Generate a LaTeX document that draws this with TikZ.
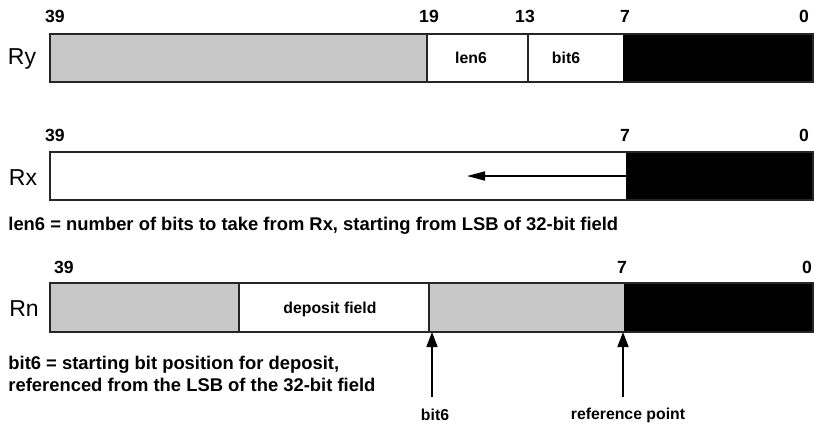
\documentclass[tikz,border=0pt]{standalone}
\usepackage{fontspec}
\setmainfont{Liberation Sans}
\usetikzlibrary{arrows.meta}
\definecolor{fieldgray}{HTML}{C8C8C8}

\begin{document}
\begin{tikzpicture}[x=0.5pt, y=-0.5pt,
    bitnum/.style={font=\bfseries\fontsize{8.8}{10}\selectfont, inner sep=0pt},
    regname/.style={font=\fontsize{11.5}{13}\selectfont, inner sep=0pt},
    fieldtxt/.style={font=\bfseries\fontsize{7.9}{9}\selectfont, inner sep=0pt},
    note/.style={font=\bfseries\fontsize{9.2}{11}\selectfont, align=left, anchor=west, inner sep=0pt},
    seg/.style={draw=black!85, line width=1pt},
    ptr/.style={line width=0.8pt, -{Triangle[length=9pt,width=4.5pt]}},
    upptr/.style={line width=0.8pt, -{Triangle[length=7.5pt,width=5.5pt]}}]
    \useasboundingbox (0,0) rectangle (814,424);

    % Register Ry
    \fill[fieldgray] (50,34) rectangle (427,82);
    \fill[black] (623,34) rectangle (814,82);
    \draw[seg] (50,34) rectangle (813,82);
    \draw[seg] (427,34) -- (427,82);
    \draw[seg] (528,34) -- (528,82);
    \node[regname] (ry) at (22,59) {Ry};
    \node[fieldtxt] (len) at (471,58) {len6};
    \node[fieldtxt] (bit) at (566,58) {bit6};
    \node[bitnum] (ya) at (55,16) {39};
    \node[bitnum] (yb) at (429,16) {19};
    \node[bitnum] (yc) at (525,16) {13};
    \node[bitnum] (yd) at (625,16) {7};
    \node[bitnum] (ye) at (804,16) {0};

    % Register Rx
    \fill[black] (626,152) rectangle (814,200);
    \draw[seg] (50,152) rectangle (813,200);
    \node[regname] (rx) at (23,178) {Rx};
    \node[bitnum] (xa) at (55,135) {39};
    \node[bitnum] (xd) at (625,135) {7};
    \node[bitnum] (xe) at (804,135) {0};
    \coordinate (rxstart) at (626,176);
    \coordinate (rxend) at (467,176);
    \draw[ptr] (rxstart) -- (rxend);
    \node[note] (lennote) at (8,226) {len6 = number of bits to take from Rx, starting from LSB of 32-bit field};

    % Register Rn
    \fill[fieldgray] (50,283) rectangle (239,332);
    \fill[fieldgray] (429,283) rectangle (624,332);
    \fill[black] (624,283) rectangle (814,332);
    \draw[seg] (50,283) rectangle (813,332);
    \draw[seg] (239,283) -- (239,332);
    \draw[seg] (429,283) -- (429,332);
    \node[regname] (rn) at (24,309) {Rn};
    \node[fieldtxt] (dep) at (330,309) {deposit field};
    \node[bitnum] (na) at (64,267) {39};
    \node[bitnum] (nd) at (622,267) {7};
    \node[bitnum] (ne) at (807,267) {0};
    \node[note] (bitnote) at (8,374) {bit6 = starting bit position for deposit,\\referenced from the LSB of the 32-bit field};

    % Pointers into Rn
    \coordinate (bitpos) at (432,332);
    \coordinate (refpos) at (623,332);
    \node[fieldtxt] (bitlbl) at (435,415) {bit6};
    \node[fieldtxt] (reflbl) at (628,415) {reference point};
    \draw[upptr] (432,397) -- (bitpos);
    \draw[upptr] (623,397) -- (refpos);
\end{tikzpicture}
\end{document}
